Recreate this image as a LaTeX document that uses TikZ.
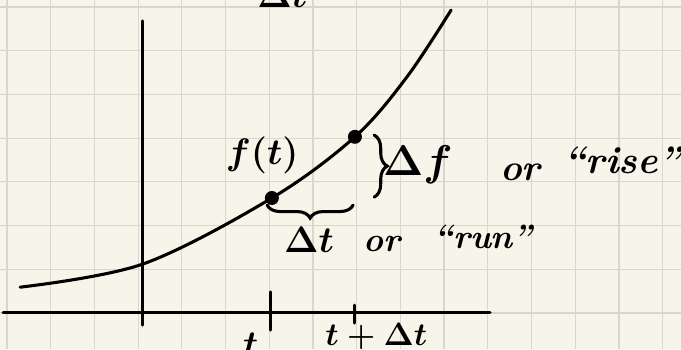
\documentclass[tikz,border=0pt]{standalone}
\usepackage{fix-cm}
\usepackage{tikz}
\usetikzlibrary{
  decorations.pathreplacing,
  positioning
}
\definecolor{paper}{HTML}{F7F5EA}
\definecolor{gridc}{HTML}{D9D7CB}

\begin{document}
\begin{tikzpicture}[
ax/.style={line width=2pt, line cap=round},
cv/.style={line width=2pt, line cap=round},
pt/.style={circle, fill=black, inner sep=0pt, minimum size=0.32cm},
lb/.style={inner sep=0pt, font=\fontsize{24}{28}\selectfont\bfseries\boldmath},
br/.style={line width=2pt, line cap=round, decorate, decoration={brace, amplitude=0.3cm}}
]
\clip (-0.16,-7.83) rectangle (15.42,0.16);
\fill[paper] (-0.16,-7.83) rectangle (15.42,0.16);
\draw[gridc, line width=0.8pt] (-0.16,-7.83) grid (15.42,0.16);
% axes
\coordinate (yt) at (3.11,-0.32);
\coordinate (yb) at (3.11,-7.28);
\coordinate (xl) at (-0.09,-6.98);
\coordinate (xr) at (11.05,-6.98);
\draw[ax] (yt) -- (yb);
\draw[ax] (xl) -- (xr);
\coordinate (tkat) at (6.02,-6.52);
\coordinate (tkab) at (6.02,-7.39);
\coordinate (tkbt) at (7.96,-6.82);
\coordinate (tkbb) at (7.96,-7.23);
\draw[ax] (tkat) -- (tkab);
\draw[ax] (tkbt) -- (tkbb);
% curve
\node[pt] (ft) at (6.06,-4.37) {};
\node[pt] (ftdt) at (7.96,-2.97) {};
\draw[cv] plot[smooth, tension=0.55] coordinates {(0.30,-6.41) (3.11,-5.88) (ft.center) (ftdt.center) (9.15,-1.60) (10.16,-0.07)};
% braces
\coordinate (dft) at (8.40,-2.93);
\coordinate (dfb) at (8.40,-4.35);
\draw[br] (dft) -- (dfb);
\coordinate (dtl) at (5.95,-4.53);
\coordinate (dtr) at (7.92,-4.53);
\draw[br, decoration={mirror}] (dtl) -- (dtr);
% labels
\node[lb] (fl) at (5.84,-3.40) {$f(t)$};
\node[lb, font=\fontsize{28}{32}\selectfont\bfseries\boldmath] (dfl) at (9.40,-3.62) {$\Delta f$};
\node[lb] (orf) at (11.74,-3.78) {\itshape or};
\node[lb, font=\fontsize{25}{30}\selectfont\bfseries\boldmath] (rise) at (14.07,-3.50) {\itshape ``rise''};
\node[lb] (dtlb) at (6.91,-5.33) {$\Delta t$};
\node[lb, font=\fontsize{22}{26}\selectfont\bfseries\boldmath] (ort) at (8.58,-5.42) {\itshape or};
\node[lb, font=\fontsize{22}{26}\selectfont\bfseries\boldmath] (run) at (10.89,-5.26) {\itshape ``run''};
\node[lb, anchor=north] (tl) at (5.58,-7.45) {$t$};
\node[lb, anchor=north, font=\fontsize{21}{26}\selectfont\bfseries\boldmath] (tdtl) at (8.45,-7.22) {$t+\Delta t$};
\node[lb, anchor=base] (topl) at (6.30,-0.02) {$\Delta t$};
\end{tikzpicture}
\end{document}
